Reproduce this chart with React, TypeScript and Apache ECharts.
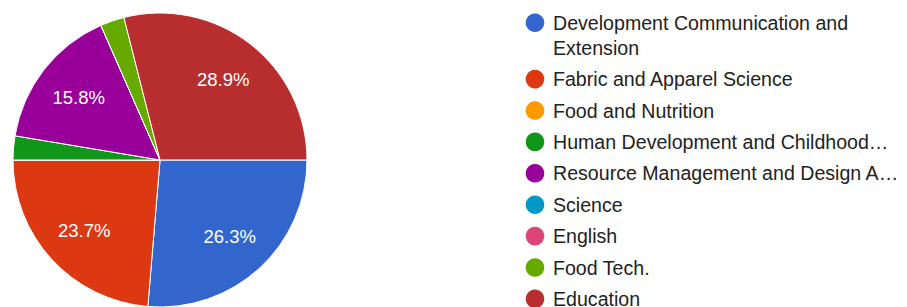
import React, { useEffect, useRef } from "react";
import * as echarts from "echarts";

const categories = [
  "Development Communication and Extension",
  "Fabric and Apparel Science",
  "Food and Nutrition",
  "Human Development and Childhood…",
  "Resource Management and Design A…",
  "Science",
  "English",
  "Food Tech.",
  "Education",
];
const legendLines = [
  ["Development Communication and", "Extension"],
  ["Fabric and Apparel Science"],
  ["Food and Nutrition"],
  ["Human Development and Childhood…"],
  ["Resource Management and Design A…"],
  ["Science"],
  ["English"],
  ["Food Tech."],
  ["Education"],
];
const counts = [10, 9, 0, 1, 6, 0, 0, 1, 11];
const colors = [
  "#3366cc",
  "#dc3912",
  "#ff9900",
  "#109618",
  "#990099",
  "#0099c6",
  "#dd4477",
  "#66aa00",
  "#b82e2e",
];

export default function App() {
  const ref = useRef<HTMLDivElement>(null);
  useEffect(() => {
    if (!ref.current) return;
    const chart = echarts.init(ref.current, undefined, { renderer: "svg" });
    const total = counts.reduce((a, b) => a + b, 0);
    const data = categories.map((name, i) => ({
      name,
      value: counts[i],
      itemStyle: { color: colors[i] },
    }));

    const graphics: any[] = [];
    let y = 22.7;
    legendLines.forEach((lines, i) => {
      graphics.push({
        type: "circle",
        shape: { cx: 535, cy: y, r: 9.3 },
        style: { fill: colors[i] },
      });
      lines.forEach((ln, j) => {
        graphics.push({
          type: "text",
          x: 553,
          y: y + j * 25,
          style: {
            text: ln,
            fill: "#222222",
            font: "19.6px 'Liberation Sans', Arial, sans-serif",
            textVerticalAlign: "middle",
            textAlign: "left",
          },
        });
      });
      y += (lines.length - 1) * 25 + 31.4;
    });

    chart.setOption({
      animation: false,
      graphic: graphics,
      series: [
        {
          type: "pie",
          center: [160, 160],
          radius: [0, 147],
          startAngle: 0,
          clockwise: true,
          silent: true,
          label: { show: false },
          labelLine: { show: false },
          itemStyle: { borderColor: "#ffffff", borderWidth: 1 },
          data,
        },
        {
          type: "pie",
          center: [160, 161],
          radius: [53, 147],
          startAngle: 0,
          clockwise: true,
          silent: true,
          itemStyle: { color: "transparent", borderWidth: 0 },
          label: {
            show: true,
            position: "inside",
            color: "#ffffff",
            fontFamily: "'Liberation Sans', Arial, sans-serif",
            fontSize: 18.5,
            formatter: (p: any) =>
              p.value / total < 0.05 ? "" : ((p.value / total) * 100).toFixed(1) + "%",
          },
          labelLine: { show: false },
          data: categories.map((name, i) => ({
            name,
            value: counts[i],
            itemStyle: { color: "transparent" },
          })),
        },
      ],
    });
    return () => chart.dispose();
  }, []);
  return (
    <div
      ref={ref}
      style={{ position: "fixed", left: 0, top: 0, width: 907, height: 307, background: "#fff" }}
    />
  );
}
